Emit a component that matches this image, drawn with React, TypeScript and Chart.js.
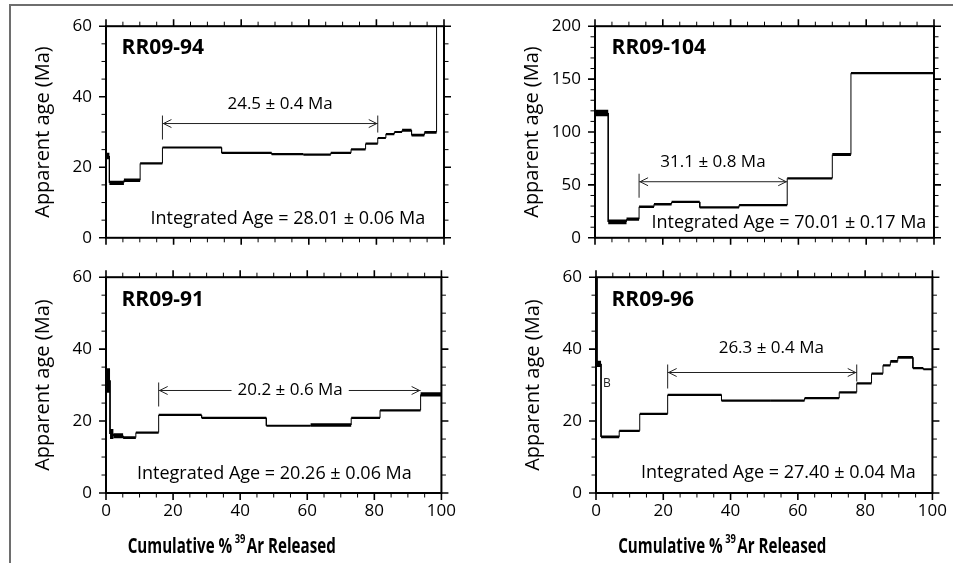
import React, { useEffect, useRef } from "react";
import { Chart, registerables } from "chart.js";

Chart.register(...registerables);

// ---------- DATA ----------
// RR09-94
const rr0994Cum = [0, 1, 5.3, 10.1, 16.7, 34.2, 49, 58.4, 66.5, 72.5, 76.8, 80.4, 82.8, 85.3, 87.6, 90.4, 94.2, 97.8, 100];
const rr0994Age = [23.2, 15.6, 16.3, 21.1, 25.6, 24.1, 23.7, 23.6, 24.1, 25.1, 26.7, 28.3, 29.4, 30.0, 30.5, 29.1, 29.9, 90];
const rr0994Err = [0.9, 0.6, 0.5, 0.3, 0.3, 0.3, 0.3, 0.3, 0.3, 0.3, 0.3, 0.3, 0.3, 0.3, 0.4, 0.4, 0.4, 1.0];
// RR09-104
const rr09104Cum = [0, 3.9, 9.3, 13, 17.4, 22.6, 30.9, 42.5, 56.7, 70, 75.5, 100];
const rr09104Age = [118, 15, 17.6, 29.3, 31.8, 33.9, 28.7, 30.9, 56.2, 78.7, 155.6];
const rr09104Err = [3, 2.2, 1.5, 1.2, 1.2, 1, 1, 1, 1, 1.5, 1];
// RR09-91
const rr0991Cum = [0, 1.2, 2.2, 5.1, 8.9, 15.7, 28.5, 47.8, 61, 73.1, 81.7, 93.8, 100];
const rr0991Age = [31.3, 16.4, 15.9, 15.4, 16.8, 21.7, 20.9, 18.7, 18.9, 20.9, 23.0, 27.4];
const rr0991Err = [3.4, 1.4, 0.7, 0.4, 0.3, 0.3, 0.3, 0.3, 0.5, 0.3, 0.3, 0.6];
// RR09-96
const rr0996Cum = [0, 0.3, 1.5, 6.9, 13, 21.3, 37.3, 52, 62, 72.3, 77.5, 81.9, 85.3, 87.5, 89.7, 94.2, 97.3, 100];
const rr0996Age = [80, 35.9, 15.6, 17.3, 22.0, 27.3, 25.7, 25.7, 26.4, 28.0, 30.5, 33.2, 35.5, 36.6, 37.7, 34.7, 34.4];
const rr0996Err = [1.0, 0.9, 0.4, 0.3, 0.3, 0.3, 0.3, 0.3, 0.3, 0.3, 0.3, 0.3, 0.3, 0.4, 0.4, 0.3, 0.3];

const sampleNames = ["RR09-94", "RR09-104", "RR09-91", "RR09-96"];
const sampleNameX = [4.6, 4.9, 4.6, 4.6];
const sampleNameY = [53.7, 179, 53.6, 53.6];

const plateauLabels = ["24.5 \u00b1 0.4 Ma", "31.1 \u00b1 0.8 Ma", "20.2 \u00b1 0.6 Ma", "26.3 \u00b1 0.4 Ma"];
const plateauFrom = [16.7, 13, 15.7, 21.3];
const plateauTo = [80.4, 56.7, 93.8, 77.5];
const plateauLevel = [32.4, 53, 28.5, 33.5];
const plateauLabelX = [51.5, 34.8, 54.9, 52.1];
const plateauLabelY = [37.8, 71.6, 28.5, 40.2];
const plateauRightTick = [true, false, false, true];

const integratedLabels = [
  "Integrated Age = 28.01 \u00b1 0.06 Ma",
  "Integrated Age = 70.01 \u00b1 0.17 Ma",
  "Integrated Age = 20.26 \u00b1 0.06 Ma",
  "Integrated Age = 27.40 \u00b1 0.04 Ma",
];
const integratedX = [53.8, 57.2, 50.2, 54.2];
const integratedY = [5.4, 13.9, 5.3, 5.6];

const yMaxes = [60, 200, 60, 60];
const yMajorSteps = [20, 50, 20, 20];
const yMinorSteps = [5, 10, 5, 5];
const xMajorStep = 20;
const xMinorStep = 5;

const extraLabelText = "B";
const extraLabelX = 2.1;
const extraLabelY = 30.3;

const yTitle = "Apparent age (Ma)";
const xTitleA = "Cumulative % ";
const xTitleSup = "39";
const xTitleB = "Ar Released";

const cums = [rr0994Cum, rr09104Cum, rr0991Cum, rr0996Cum];
const ages = [rr0994Age, rr09104Age, rr0991Age, rr0996Age];
const errs = [rr0994Err, rr09104Err, rr0991Err, rr0996Err];

// ---------- LAYOUT ----------
const rects = [
  { l: 106, r: 444, t: 24, b: 240, bottom: false },
  { l: 595, r: 934, t: 24, b: 240, bottom: false },
  { l: 106, r: 444, t: 275, b: 493, bottom: true },
  { l: 596, r: 935, t: 275, b: 493, bottom: true },
];

const LEFT_SPACE = 100;
const RIGHT_SPACE = 20;
const TOP_SPACE = 22;
const FONT = "'Open Sans', sans-serif";
const X_TITLE_WIDTH = 208;

function makePlugin(idx: number) {
  return {
    id: "frame" + idx,
    afterDatasetsDraw(chart: any) {
      const ctx = chart.ctx as CanvasRenderingContext2D;
      const { left, right, top, bottom } = chart.chartArea;
      const xs = chart.scales.x;
      const ys = chart.scales.y;
      ctx.save();
      // box
      ctx.strokeStyle = "#000";
      ctx.lineWidth = 2;
      ctx.strokeRect(left, top, right - left, bottom - top);
      // y ticks
      const yMax = yMaxes[idx];
      for (let v = 0; v <= yMax + 1e-9; v += yMinorSteps[idx]) {
        const p = ys.getPixelForValue(v);
        const major = Math.abs(v % yMajorSteps[idx]) < 1e-9;
        const len = major ? 7 : 4.5;
        ctx.lineWidth = major ? 1.6 : 1;
        ctx.beginPath();
        ctx.moveTo(left, p);
        ctx.lineTo(left - len, p);
        ctx.moveTo(right, p);
        ctx.lineTo(right + len, p);
        ctx.stroke();
      }
      for (let v = 0; v <= 100 + 1e-9; v += xMinorStep) {
        const p = xs.getPixelForValue(v);
        const major = Math.abs(v % xMajorStep) < 1e-9;
        const len = major ? 7 : 4.5;
        ctx.lineWidth = major ? 1.6 : 1;
        ctx.beginPath();
        ctx.moveTo(p, top);
        ctx.lineTo(p, top - len);
        ctx.moveTo(p, bottom);
        ctx.lineTo(p, bottom + len);
        ctx.stroke();
      }
      // plateau arrow
      const ay = ys.getPixelForValue(plateauLevel[idx]);
      const ax0 = xs.getPixelForValue(plateauFrom[idx]);
      const ax1 = xs.getPixelForValue(plateauTo[idx]);
      ctx.strokeStyle = "#222";
      ctx.lineWidth = 1;
      ctx.beginPath();
      ctx.moveTo(ax0, ay);
      ctx.lineTo(ax1, ay);
      ctx.moveTo(ax0 + 9, ay - 4);
      ctx.lineTo(ax0 + 1, ay);
      ctx.lineTo(ax0 + 9, ay + 4);
      ctx.moveTo(ax1 - 9, ay - 4);
      ctx.lineTo(ax1 - 1, ay);
      ctx.lineTo(ax1 - 9, ay + 4);
      ctx.moveTo(ax0, ay - 8);
      ctx.lineTo(ax0, ay + 16);
      if (plateauRightTick[idx]) {
        ctx.moveTo(ax1, ay - 8);
        ctx.lineTo(ax1, ay + 9);
      }
      ctx.stroke();
      // plateau label
      ctx.font = `17px ${FONT}`;
      ctx.textAlign = "center";
      ctx.textBaseline = "middle";
      const lx = xs.getPixelForValue(plateauLabelX[idx]);
      const ly = ys.getPixelForValue(plateauLabelY[idx]);
      const lw = ctx.measureText(plateauLabels[idx]).width;
      if (Math.abs(ly - ay) < 4) {
        ctx.fillStyle = "#fff";
        ctx.fillRect(lx - lw / 2 - 6, ly - 10, lw + 12, 20);
      }
      ctx.fillStyle = "#000";
      ctx.fillText(plateauLabels[idx], lx, ly);
      // integrated age
      ctx.font = `18px ${FONT}`;
      ctx.fillText(integratedLabels[idx], xs.getPixelForValue(integratedX[idx]), ys.getPixelForValue(integratedY[idx]));
      // sample name
      ctx.font = `bold 21px ${FONT}`;
      ctx.textAlign = "left";
      ctx.fillText(sampleNames[idx], xs.getPixelForValue(sampleNameX[idx]), ys.getPixelForValue(sampleNameY[idx]));
      if (idx === 3) {
        ctx.font = `12px ${FONT}`;
        ctx.fillStyle = "#222";
        ctx.fillText(extraLabelText, xs.getPixelForValue(extraLabelX), ys.getPixelForValue(extraLabelY));
      }
      // y title
      ctx.fillStyle = "#000";
      ctx.save();
      ctx.translate(left - 63, (top + bottom) / 2);
      ctx.rotate(-Math.PI / 2);
      ctx.font = `20px ${FONT}`;
      ctx.textAlign = "center";
      ctx.textBaseline = "middle";
      ctx.fillText(yTitle, 0, 0);
      ctx.restore();
      // x title (condensed bold)
      if (rects[idx].bottom) {
        const cx = (left + right) / 2 - 42;
        const base = bottom + 60;
        ctx.textBaseline = "alphabetic";
        ctx.textAlign = "left";
        ctx.font = `bold 21px ${FONT}`;
        const wA = ctx.measureText(xTitleA).width;
        const wB = ctx.measureText(xTitleB).width;
        ctx.font = `bold 13px ${FONT}`;
        const wS = ctx.measureText(xTitleSup).width;
        const total = wA + wS + wB;
        const k = X_TITLE_WIDTH / total;
        ctx.save();
        ctx.translate(cx, base);
        ctx.scale(k, 1);
        let x = -total / 2;
        ctx.font = `bold 21px ${FONT}`;
        ctx.fillText(xTitleA, x, 0);
        x += wA;
        ctx.font = `bold 13px ${FONT}`;
        ctx.fillText(xTitleSup, x - 2, -10);
        x += wS;
        ctx.font = `bold 21px ${FONT}`;
        ctx.fillText(xTitleB, x, 0);
        ctx.restore();
      }
      ctx.restore();
    },
  };
}

function Panel({ idx }: { idx: number }) {
  const ref = useRef<HTMLCanvasElement | null>(null);
  const r = rects[idx];
  const bottomSpace = r.bottom ? 70 : 22;
  const width = r.r - r.l + LEFT_SPACE + RIGHT_SPACE;
  const height = r.b - r.t + TOP_SPACE + bottomSpace;

  useEffect(() => {
    if (!ref.current) return;
    const cum = cums[idx];
    const age = ages[idx];
    const err = errs[idx];
    const pts: { x: number; y: number }[] = [];
    for (let i = 0; i < age.length; i++) {
      pts.push({ x: cum[i], y: age[i] });
      pts.push({ x: cum[i + 1], y: age[i] });
    }
    const chart = new Chart(ref.current, {
      type: "line",
      data: {
        datasets: [
          {
            data: pts,
            borderColor: "#000",
            borderWidth: 1,
            pointRadius: 0,
            tension: 0,
            fill: false,
            clip: 0,
            segment: {
              borderWidth: (c: any) => {
                if (c.p0DataIndex % 2 === 1) return 1;
                const i = Math.floor(c.p0DataIndex / 2);
                const ys = c.chart && c.chart.scales ? c.chart.scales.y : null;
                const ppu = ys ? Math.abs(ys.getPixelForValue(0) - ys.getPixelForValue(1)) : 1;
                return Math.max(2.2, 2 * err[i] * ppu);
              },
            },
          } as any,
        ],
      },
      options: {
        responsive: false,
        animation: false,
        events: [],
        layout: { padding: { left: 0, right: RIGHT_SPACE, top: TOP_SPACE, bottom: 0 } },
        plugins: { legend: { display: false }, tooltip: { enabled: false } },
        scales: {
          x: {
            type: "linear",
            min: 0,
            max: 100,
            grid: { display: false, drawTicks: false },
            border: { display: false },
            ticks: {
              display: r.bottom,
              stepSize: xMajorStep,
              padding: 8,
              color: "#000",
              font: { family: FONT, size: 17 },
              maxRotation: 0,
            },
            afterFit: (s: any) => {
              s.height = bottomSpace;
            },
          },
          y: {
            type: "linear",
            min: 0,
            max: yMaxes[idx],
            grid: { display: false, drawTicks: false },
            border: { display: false },
            ticks: {
              stepSize: yMajorSteps[idx],
              padding: 14,
              color: "#000",
              font: { family: FONT, size: 17 },
            },
            afterFit: (s: any) => {
              s.width = LEFT_SPACE;
            },
          },
        },
      } as any,
      plugins: [makePlugin(idx)],
    });
    return () => chart.destroy();
  }, [idx]);

  return (
    <canvas
      ref={ref}
      width={width}
      height={height}
      style={{
        position: "absolute",
        left: r.l - LEFT_SPACE,
        top: r.t - TOP_SPACE,
        width,
        height,
      }}
    />
  );
}

export default function App() {
  return (
    <div
      style={{
        position: "absolute",
        left: 0,
        top: 0,
        width: 953,
        height: 563,
        background: "#fff",
        overflow: "hidden",
      }}
    >
      <div
        style={{
          position: "absolute",
          left: 9,
          top: 4,
          width: 944,
          height: 559,
          borderTop: "2px solid #6e6e6e",
          borderLeft: "2px solid #6e6e6e",
          boxSizing: "border-box",
        }}
      />
      {[0, 1, 2, 3].map((i) => (
        <Panel key={i} idx={i} />
      ))}
    </div>
  );
}
